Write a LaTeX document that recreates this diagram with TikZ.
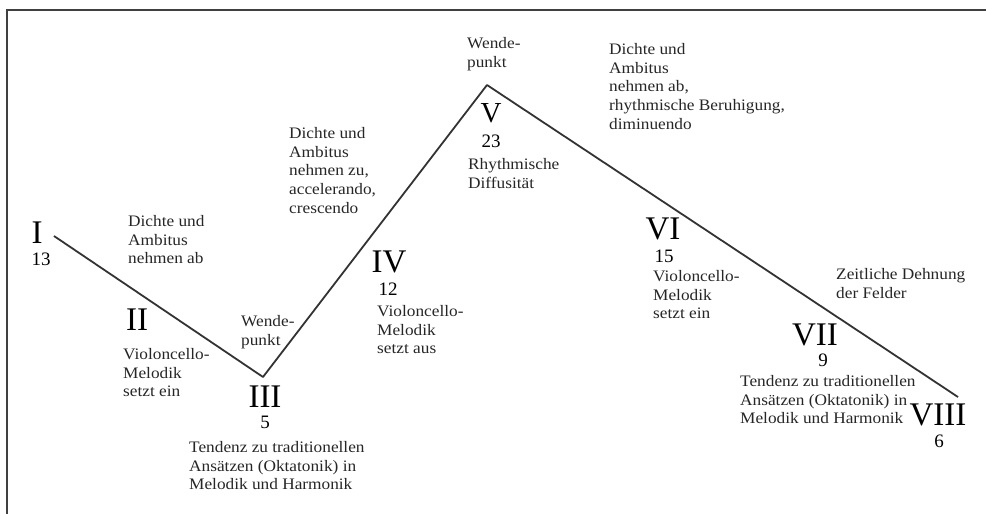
\documentclass[tikz,border=0pt]{standalone}
\usepackage{fontspec}
\setmainfont{Liberation Serif}
\newfontfamily\notefont[FakeStretch=1.08]{Liberation Serif}
\begin{document}
\begin{tikzpicture}[x=1pt,y=-1pt,
  numeral/.style={anchor=base,inner sep=0pt,font=\fontsize{33}{33}\selectfont},
  count/.style={anchor=base,inner sep=0pt,font=\fontsize{19}{19}\selectfont},
  note/.style={anchor=north west,inner sep=0pt,align=left,text=black!85,
    font=\notefont\fontsize{16}{18.8}\selectfont}]
\useasboundingbox (0,0) rectangle (986,514);
% frame
\draw [line width=2pt, black!75] (7,514) -- (7,10) -- (986,10);

% curve of the fields
\coordinate (sI) at (54,236);
\coordinate (sIII) at (263,377);
\coordinate (sV) at (487,85);
\coordinate (sVIII) at (958,397);
\draw [line width=1.8pt, black!80, line join=round] (sI) -- (sIII) -- (sV) -- (sVIII);

% field numbers
\node [numeral] (nI) at (37,243) {I};
\node [count] (cI) at (41,265) {13};
\node [numeral] (nII) at (137,330) {II};
\node [numeral] (nIII) at (265,407) {III};
\node [count] (cIII) at (265,428) {5};
\node [numeral] (nIV) at (389,272) {IV};
\node [count] (cIV) at (388,295) {12};
\node [numeral, font=\fontsize{29}{29}\selectfont] (nV) at (491,122) {V};
\node [count] (cV) at (491,147) {23};
\node [numeral] (nVI) at (663,239) {VI};
\node [count] (cVI) at (664,262) {15};
\node [numeral] (nVII) at (815,345) {VII};
\node [count] (cVII) at (823,366) {9};
\node [numeral] (nVIII) at (938,425) {VIII};
\node [count] (cVIII) at (939,447) {6};

% comments
\node [note] (tI) at (128,215) {Dichte und\\Ambitus\\nehmen ab};
\node [note] (tII) at (123,348) {Violoncello-\\Melodik\\setzt ein};
\node [note] (wIII) at (241,315) {Wende-\\punkt};
\node [note] (tIII) at (189,441) {Tendenz zu traditionellen\\Ansätzen (Oktatonik) in\\Melodik und Harmonik};
\node [note] (tIIIV) at (289,127) {Dichte und\\Ambitus\\nehmen zu,\\accelerando,\\crescendo};
\node [note] (tIV) at (377,305) {Violoncello-\\Melodik\\setzt aus};
\node [note] (wV) at (467,37) {Wende-\\punkt};
\node [note] (tV) at (468,158) {Rhythmische\\Diffusität};
\node [note] (tVVI) at (609,43) {Dichte und\\Ambitus\\nehmen ab,\\rhythmische Beruhigung,\\diminuendo};
\node [note] (tVI) at (653,270) {Violoncello-\\Melodik\\setzt ein};
\node [note] (tVIIVIII) at (836,268) {Zeitliche Dehnung\\der Felder};
\node [note] (tVII) at (740,375) {Tendenz zu traditionellen\\Ansätzen (Oktatonik) in\\Melodik und Harmonik};

\end{tikzpicture}
\end{document}
